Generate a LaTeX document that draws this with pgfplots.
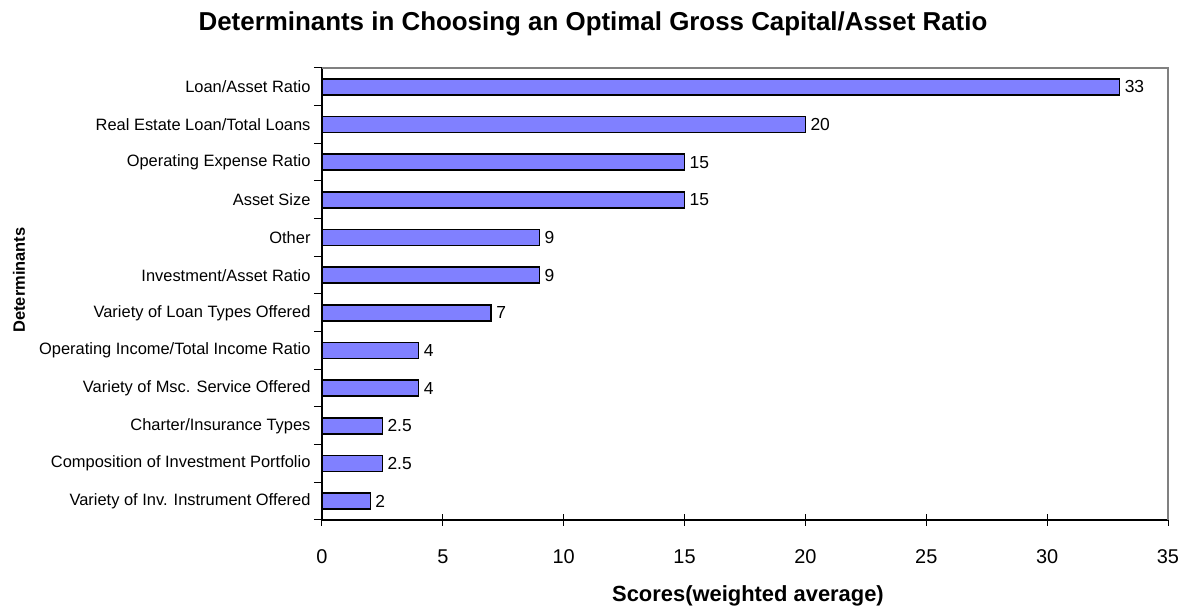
\documentclass[border=0pt]{standalone}
\usepackage{fontspec}
\setmainfont{Liberation Sans}
\usepackage{pgfplots}
\pgfplotsset{compat=1.18}
\definecolor{barblue}{RGB}{128,128,255}
\definecolor{frame}{RGB}{128,128,128}
\begin{document}
\begin{tikzpicture}
\begin{axis}[
  at={(0,0)}, anchor=south west,
  scale only axis,
  width=846bp, height=452bp,
  xmin=0, xmax=35, ymin=-0.5, ymax=11.5,
  axis lines*=left,
  axis line style={line width=1.2bp, black},
  xtick={0,5,...,35},
  ytick={0,...,11},
  yticklabels={Variety of Inv. Instrument Offered,
    Composition of Investment Portfolio,
    Charter/Insurance Types,
    Variety of Msc. Service Offered,
    Operating Income/Total Income Ratio,
    Variety of Loan Types Offered,
    Investment/Asset Ratio,
    Other,
    Asset Size,
    Operating Expense Ratio,
    Real Estate Loan/Total Loans,
    Loan/Asset Ratio},
  minor ytick={-0.5,0.5,...,11.5},
  every major y tick/.style={draw=none},
  every minor y tick/.style={black, line width=1bp},
  every major x tick/.style={black, line width=1bp},
  tick align=center,
  major tick length=12bp,
  minor tick length=8bp,
  /pgf/number format/assume math mode=true,
  xticklabel style={font=\fontsize{20}{24}\selectfont, yshift=-20bp},
  yticklabel style={font=\fontsize{16.5}{19}\selectfont, xshift=4bp},
  xbar, bar width=16bp,
  nodes near coords,
  every node near coord/.append style={font=\fontsize{17.5}{21}\selectfont, anchor=west, xshift=1bp},
  clip=false,
]
\draw[frame, line width=1.5bp] (rel axis cs:0,1) -- (rel axis cs:1,1) -- (rel axis cs:1,0);
\addplot[fill=barblue, draw=black, line width=1.6bp] coordinates {
  (2,0) (2.5,1) (2.5,2) (4,3) (4,4) (7,5) (9,6) (9,7) (15,8) (15,9) (20,10) (33,11)
};
\end{axis}
\node[font=\bfseries\fontsize{26}{30}\selectfont] at (271bp,496bp) {Determinants in Choosing an Optimal Gross Capital/Asset Ratio};
\node[font=\bfseries\fontsize{16.5}{20}\selectfont, rotate=90] at (-303bp,240bp) {Determinants};
\node[font=\bfseries\fontsize{22}{26}\selectfont] at (426bp,-76bp) {Scores(weighted average)};
\path[use as bounding box] (-322bp,-89bp) rectangle (865bp,520bp);
\end{tikzpicture}
\end{document}
